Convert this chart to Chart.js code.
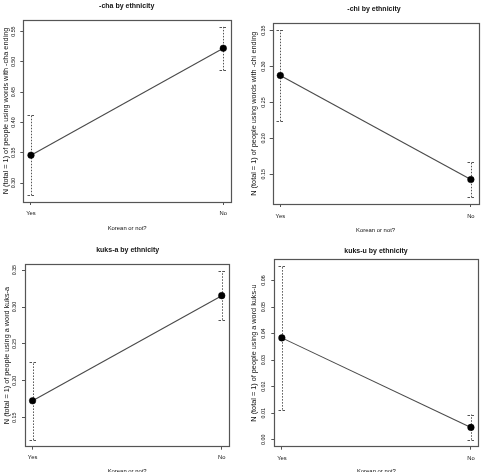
<!DOCTYPE html>
<html>
<head>
<meta charset="utf-8">
<script src="https://cdn.jsdelivr.net/npm/chart.js@4/dist/chart.umd.min.js"></script>
<style>
  html, body { margin: 0; padding: 0; background: #fff; }
  body { width: 483px; height: 472px; position: relative; overflow: hidden; }
  canvas { position: absolute; }
</style>
</head>
<body>
<canvas id="c1"></canvas>
<canvas id="c2"></canvas>
<canvas id="c3"></canvas>
<canvas id="c4"></canvas>
<script>
// ---------- data ----------
const categories = ['Yes', 'No'];
const xAxisTitle = 'Korean or not?';

const chaTitle = '-cha by ethnicity';
const chaYTitle = 'N (total = 1) of people using words with -cha ending';
const chaMean  = [0.346, 0.5225];
const chaLower = [0.280, 0.486];
const chaUpper = [0.413, 0.558];
const chaTicks = [0.30, 0.35, 0.40, 0.45, 0.50, 0.55];

const chiTitle = '-chi by ethnicity';
const chiYTitle = 'N (total = 1) of people using words with -chi ending';
const chiMean  = [0.2877, 0.1427];
const chiLower = [0.224, 0.118];
const chiUpper = [0.351, 0.167];
const chiTicks = [0.15, 0.20, 0.25, 0.30, 0.35];

const kuksaTitle = 'kuks-a by ethnicity';
const kuksaYTitle = 'N (total = 1) of people using a word kuks-a';
const kuksaMean  = [0.173, 0.3154];
const kuksaLower = [0.120, 0.2827];
const kuksaUpper = [0.2255, 0.3487];
const kuksaTicks = [0.15, 0.20, 0.25, 0.30, 0.35];

const kuksuTitle = 'kuks-u by ethnicity';
const kuksuYTitle = 'N (total = 1) of people using a word kuks-u';
const kuksuMean  = [0.0384, 0.00465];
const kuksuLower = [0.01136, 0.0];
const kuksuUpper = [0.0654, 0.0095];
const kuksuTicks = [0.00, 0.01, 0.02, 0.03, 0.04, 0.05, 0.06];

// ---------- layout / style ----------
const FONT = '"Liberation Sans", Arial, Helvetica, sans-serif';
const panels = [
  { id: 'c1', left: 0,   top: 0,   w: 241, h: 236,
    box: [23.3, 20, 231, 202], titleXY: [126.7, 6], yTitleX: 6.3, tickX: 13.3, xTickY: 213.7, xTitleY: 228.3,
    title: chaTitle, yTitle: chaYTitle, mean: chaMean, lower: chaLower, upper: chaUpper, ticks: chaTicks },
  { id: 'c2', left: 241, top: 0,   w: 242, h: 236,
    box: [31.7, 23.3, 237.7, 204], titleXY: [133, 8.7], yTitleX: 13.3, tickX: 22.3, xTickY: 216, xTitleY: 230,
    title: chiTitle, yTitle: chiYTitle, mean: chiMean, lower: chiLower, upper: chiUpper, ticks: chiTicks },
  { id: 'c3', left: 0,   top: 236, w: 241, h: 236,
    box: [25, 28.3, 229.3, 210.7], titleXY: [127.7, 14], yTitleX: 6.7, tickX: 15, xTickY: 221.7, xTitleY: 235,
    title: kuksaTitle, yTitle: kuksaYTitle, mean: kuksaMean, lower: kuksaLower, upper: kuksaUpper, ticks: kuksaTicks },
  { id: 'c4', left: 241, top: 236, w: 242, h: 236,
    box: [33.3, 23.3, 237.7, 210.7], titleXY: [135, 14.7], yTitleX: 13.3, tickX: 22.3, xTickY: 222.7, xTitleY: 235,
    title: kuksuTitle, yTitle: kuksuYTitle, mean: kuksuMean, lower: kuksuLower, upper: kuksuUpper, ticks: kuksuTicks },
];

const AXIS_COLOR = '#555';
const TEXT_COLOR = '#111';

function makeChart(p) {
  const cv = document.getElementById(p.id);
  cv.width = p.w; cv.height = p.h;
  cv.style.left = p.left + 'px'; cv.style.top = p.top + 'px';
  cv.style.width = p.w + 'px'; cv.style.height = p.h + 'px';

  const lo = Math.min(...p.lower), hi = Math.max(...p.upper);
  const pad = (hi - lo) * 0.04;
  const xs = categories.map((c, i) => i + 1);

  const decor = {
    id: 'decor-' + p.id,
    beforeDatasetsDraw(chart) {
      const ctx = chart.ctx, xS = chart.scales.x, yS = chart.scales.y;
      ctx.save();
      ctx.strokeStyle = '#555';
      ctx.lineWidth = 1;
      xs.forEach((xv, i) => {
        const px = Math.round(xS.getPixelForValue(xv)) + 0.5;
        const yl = yS.getPixelForValue(p.lower[i]);
        const yu = yS.getPixelForValue(p.upper[i]);
        ctx.setLineDash([1.5, 1.5]);
        ctx.beginPath(); ctx.moveTo(px, yl); ctx.lineTo(px, yu); ctx.stroke();
        ctx.setLineDash([2.5, 1.5]);
        [yl, yu].forEach(yy => {
          const y = Math.round(yy) + 0.5;
          ctx.beginPath(); ctx.moveTo(px - 4, y); ctx.lineTo(px + 4, y); ctx.stroke();
        });
      });
      ctx.restore();
    },
    afterDraw(chart) {
      const ctx = chart.ctx, a = chart.chartArea, xS = chart.scales.x, yS = chart.scales.y;
      ctx.save();
      // box
      ctx.strokeStyle = AXIS_COLOR; ctx.lineWidth = 1.2; ctx.setLineDash([]);
      ctx.strokeRect(Math.round(a.left) + 0.5, Math.round(a.top) + 0.5,
                     Math.round(a.right - a.left), Math.round(a.bottom - a.top));
      ctx.fillStyle = TEXT_COLOR;
      // title
      ctx.font = 'bold 7px ' + FONT;
      ctx.textAlign = 'center'; ctx.textBaseline = 'middle';
      ctx.fillText(p.title, p.titleXY[0], p.titleXY[1]);
      // y tick labels (rotated)
      ctx.font = '5.3px ' + FONT;
      p.ticks.forEach(t => {
        const y = yS.getPixelForValue(t);
        ctx.save(); ctx.translate(p.tickX, y); ctx.rotate(-Math.PI / 2);
        ctx.fillText(t.toFixed(2), 0, 0); ctx.restore();
      });
      // y title
      ctx.font = '7.3px ' + FONT;
      ctx.save(); ctx.translate(p.yTitleX, (a.top + a.bottom) / 2); ctx.rotate(-Math.PI / 2);
      ctx.fillText(p.yTitle, 0, 0); ctx.restore();
      // x tick labels
      ctx.font = '5.8px ' + FONT;
      categories.forEach((c, i) => ctx.fillText(c, xS.getPixelForValue(xs[i]), p.xTickY));
      // x title
      ctx.font = '5.9px ' + FONT;
      ctx.fillText(xAxisTitle, (a.left + a.right) / 2, p.xTitleY);
      ctx.restore();
    }
  };

  const gridOpts = { display: true, drawOnChartArea: false, drawTicks: true, tickLength: 3, color: AXIS_COLOR, lineWidth: 1 };

  return new Chart(cv, {
    type: 'line',
    data: {
      datasets: [{
        data: xs.map((xv, i) => ({ x: xv, y: p.mean[i] })),
        borderColor: '#4a4a4a', borderWidth: 1.1,
        pointRadius: 3.3, pointBackgroundColor: '#000', pointBorderColor: '#000', pointBorderWidth: 0.5,
        tension: 0, fill: false
      }]
    },
    options: {
      responsive: false, animation: false, devicePixelRatio: 1,
      layout: { padding: { top: p.box[1], right: p.w - p.box[2], left: 0, bottom: 0 } },
      plugins: { legend: { display: false }, title: { display: false }, tooltip: { enabled: false } },
      scales: {
        x: {
          type: 'linear', min: 1 - 0.04, max: 2 + 0.04,
          afterBuildTicks: s => { s.ticks = xs.map(v => ({ value: v })); },
          afterFit: s => { s.height = p.h - p.box[3]; },
          ticks: { display: false },
          grid: gridOpts, border: { display: false }
        },
        y: {
          type: 'linear', min: lo - pad, max: hi + pad,
          afterBuildTicks: s => { s.ticks = p.ticks.map(v => ({ value: v })); },
          afterFit: s => { s.width = p.box[0]; },
          ticks: { display: false },
          grid: gridOpts, border: { display: false }
        }
      }
    },
    plugins: [decor]
  });
}

panels.forEach(makeChart);
</script>
</body>
</html>
